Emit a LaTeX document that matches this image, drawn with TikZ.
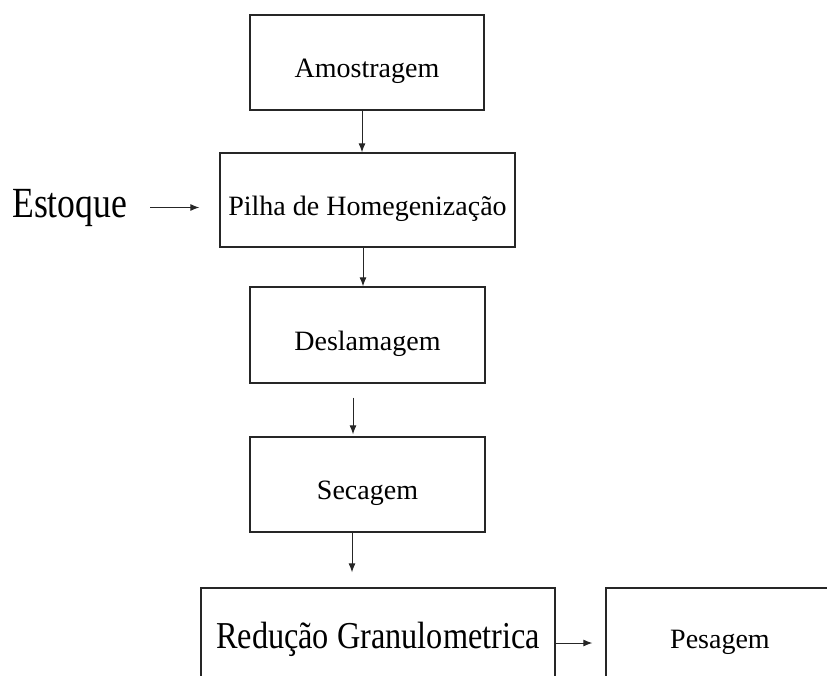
\documentclass[tikz,border=0pt]{standalone}
\usepackage{fontspec}
\setmainfont{Liberation Serif}
\usetikzlibrary{arrows.meta}
\begin{document}
\begin{tikzpicture}[x=1pt,y=-1pt,
  box/.style={draw=black!85, line width=1.3pt, inner sep=0pt, text height=30pt, text depth=0pt, font=\fontsize{28}{34}\selectfont},
  arr/.style={draw=black!85, line width=1pt, -{Latex[length=9pt,width=7pt]}}]
\useasboundingbox (0,0) rectangle (827,675);
\clip (0,0) rectangle (827,675);
\node[box, minimum width=234pt, minimum height=95pt] (amo) at (367,62.5) {Amostragem};
\node[box, minimum width=295pt, minimum height=94pt] (pil) at (367.5,200) {Pilha de Homegenização};
\node[box, minimum width=235pt, minimum height=96pt] (des) at (367.5,335) {Deslamagem};
\node[box, minimum width=235pt, minimum height=95pt] (sec) at (367.5,484.5) {Secagem};
\node[box, minimum width=354pt, minimum height=90pt] (red) at (378,633) {\fontsize{38}{44}\selectfont\scalebox{0.85}[1]{Redução Granulometrica}};
\node[box, minimum width=228pt, minimum height=90pt] (pes) at (720,633) {Pesagem};
\node[anchor=base west, inner sep=0pt, font=\fontsize{43}{50}\selectfont] (est) at (12,217) {\scalebox{0.83}[1]{Estoque}};
\draw[arr] ([xshift=-5pt]amo.south) -- ([xshift=-5pt]amo.south |- pil.north);
\draw[arr] ([xshift=-4.5pt]pil.south) -- ([xshift=-4.5pt]pil.south |- des.north);
\draw[arr, shorten <=14pt, shorten >=2pt] ([xshift=-14.5pt]des.south) -- ([xshift=-14.5pt]des.south |- sec.north);
\draw[arr, shorten >=15pt] ([xshift=-15.5pt]sec.south) -- ([xshift=-15.5pt]sec.south |- red.north);
\draw[arr, shorten <=23pt, shorten >=20pt] (est.east) -- (est.east -| pil.west);
\draw[arr, shorten >=13pt] ([yshift=-10pt]red.east) -- ([yshift=-10pt]red.east -| pes.west);
\end{tikzpicture}
\end{document}
